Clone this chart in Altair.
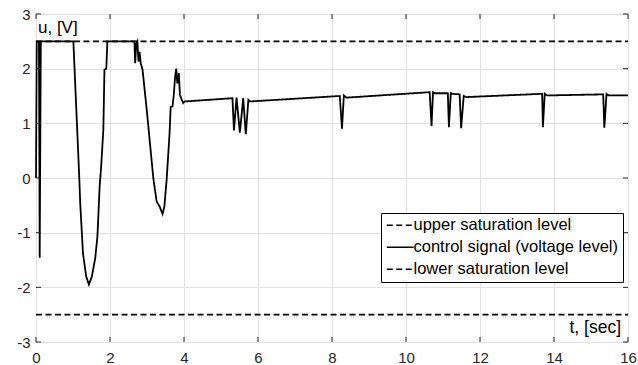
import altair as alt
import pandas as pd

# ---- data ----
t = [0.0, 0.02, 0.08, 0.10, 0.13, 1.01, 1.09, 1.17, 1.195, 1.27, 1.357, 1.43,
     1.51, 1.60, 1.66, 1.72, 1.76, 1.82, 1.85, 1.90, 1.93, 2.64, 2.66, 2.68,
     2.71, 2.74, 2.77, 2.80, 2.83, 2.88, 3.00, 3.17, 3.26, 3.34, 3.42, 3.47,
     3.53, 3.61, 3.64, 3.69, 3.72, 3.76, 3.79, 3.82, 3.86, 3.89, 3.94, 3.98,
     4.02, 5.31, 5.35, 5.42, 5.51, 5.60, 5.67, 5.74, 5.78, 8.21, 8.27, 8.32,
     8.39, 10.64, 10.69, 10.73, 10.77, 11.13, 11.16, 11.21, 11.25, 11.45,
     11.49, 11.56, 11.63, 13.68, 13.70, 13.75, 13.81, 15.33, 15.36, 15.42,
     15.47, 16.0]
u = [0.0, 2.5, 2.5, -1.46, 2.5, 2.5, 1.25, 0.0, -0.46, -1.38, -1.80, -1.95,
     -1.80, -1.47, -1.07, -0.16, 0.2, 0.88, 1.98, 2.0, 2.5, 2.5, 2.5, 2.1,
     2.46, 2.5, 2.13, 2.31, 2.1, 1.98, 1.2, 0.0, -0.43, -0.52, -0.66, -0.52,
     -0.04, 0.82, 1.30, 1.31, 1.49, 1.85, 2.0, 1.73, 1.92, 1.52, 1.43, 1.37,
     1.40, 1.46, 0.87, 1.47, 0.83, 1.46, 0.80, 1.43, 1.40, 1.50, 0.90, 1.51,
     1.47, 1.57, 0.95, 1.57, 1.55, 1.55, 0.93, 1.55, 1.54, 1.53, 0.91, 1.50,
     1.48, 1.54, 0.93, 1.54, 1.51, 1.53, 0.92, 1.54, 1.51, 1.51]

t_span = [0, 16]
upper_level = 2.5
lower_level = -2.5

series_names = ["upper saturation level", "control signal (voltage level)",
                "lower saturation level"]
x_ticks = [0, 2, 4, 6, 8, 10, 12, 14, 16]
y_ticks = [-3, -2, -1, 0, 1, 2, 3]
y_label = ["u, [V]"]
x_label = ["t, [sec]"]

# ---- build table ----
rows = []
i = 0
for ti in t_span:
    rows.append(dict(t=ti, u=upper_level, series=series_names[0], idx=i)); i += 1
for ti, ui in zip(t, u):
    rows.append(dict(t=ti, u=ui, series=series_names[1], idx=i)); i += 1
for ti in t_span:
    rows.append(dict(t=ti, u=lower_level, series=series_names[2], idx=i)); i += 1
df = pd.DataFrame(rows)

W, H = 592, 328
FONT = "Liberation Sans"
AX = "#262626"

xs = alt.Scale(domain=[0, 16], nice=False, zero=False)
ys = alt.Scale(domain=[-3, 3], nice=False, zero=False)

x_axis = alt.Axis(values=x_ticks, title=None, grid=True, ticks=False, domain=False,
                  labelFontSize=15, labelFont=FONT, labelColor=AX, labelPadding=8,
                  labelFlush=False, labelOverlap=False, labelBound=False,
                  gridColor="#e2e2e2", gridWidth=1, labelExpr="'' + datum.value")
y_axis = alt.Axis(values=y_ticks, title=None, grid=True, ticks=False, domain=False,
                  labelFontSize=15, labelFont=FONT, labelColor=AX, labelPadding=6,
                  labelFlush=False, labelOverlap=False, labelBound=False,
                  gridColor="#e2e2e2", gridWidth=1, labelExpr="'' + datum.value")

lines = alt.Chart(df).mark_line(color="black", strokeWidth=1.8).encode(
    x=alt.X("t:Q", scale=xs, axis=x_axis),
    y=alt.Y("u:Q", scale=ys, axis=y_axis),
    strokeDash=alt.StrokeDash(
        "series:N",
        scale=alt.Scale(domain=series_names, range=[[6, 3.5], [1, 0], [6, 3.5]]),
        sort=series_names,
        legend=alt.Legend(
            title=None, orient="none", legendX=345, legendY=199,
            direction="vertical", symbolType="M-2,0H2", symbolSize=182,
            symbolStrokeWidth=1.6, symbolStrokeColor="black",
            symbolFillColor="transparent", symbolOffset=7,
            labelFontSize=16.5, labelFont=FONT, labelColor="black",
            labelOffset=5, labelLimit=0, strokeColor="black", fillColor="white",
            padding=4, rowPadding=5,
        ),
    ),
    order=alt.Order("idx:Q"),
)

xt = pd.DataFrame({"t": x_ticks})
yt = pd.DataFrame({"u": y_ticks})
tick_len = 5
xticks_bottom = alt.Chart(xt).mark_rule(color=AX, strokeWidth=1).encode(
    x=alt.X("t:Q", scale=xs, axis=x_axis), y=alt.value(H), y2=alt.value(H - tick_len))
xticks_top = alt.Chart(xt).mark_rule(color=AX, strokeWidth=1).encode(
    x=alt.X("t:Q", scale=xs, axis=x_axis), y=alt.value(0), y2=alt.value(tick_len))
yticks_left = alt.Chart(yt).mark_rule(color=AX, strokeWidth=1).encode(
    y=alt.Y("u:Q", scale=ys, axis=y_axis), x=alt.value(0), x2=alt.value(tick_len))
yticks_right = alt.Chart(yt).mark_rule(color=AX, strokeWidth=1).encode(
    y=alt.Y("u:Q", scale=ys, axis=y_axis), x=alt.value(W), x2=alt.value(W - tick_len))

ylab = alt.Chart(pd.DataFrame({"label": y_label})).mark_text(
    align="left", baseline="middle", fontSize=17, font=FONT, color="black"
).encode(text="label:N", x=alt.value(2), y=alt.value(14))
xlab = alt.Chart(pd.DataFrame({"label": x_label})).mark_text(
    align="right", baseline="middle", fontSize=17.5, font=FONT, color="black"
).encode(text="label:N", x=alt.value(W - 7), y=alt.value(H - 14))

chart = alt.layer(
    lines, xticks_bottom, xticks_top, yticks_left, yticks_right, ylab, xlab
).properties(
    width=W, height=H,
    padding={"left": 36, "top": 14, "right": 10, "bottom": 23},
    autosize=alt.AutoSizeParams(type="none"),
).configure_view(stroke=AX, strokeWidth=1).configure(background="white")

chart.save("out.html", embed_options={"renderer": "svg", "actions": False})
